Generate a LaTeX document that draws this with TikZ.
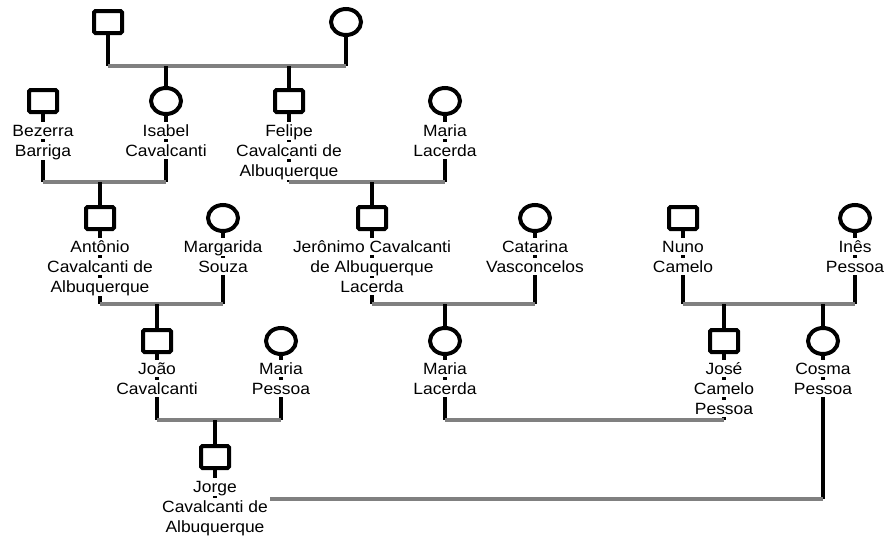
\documentclass[tikz,border=0pt]{standalone}
\usepackage{fontspec}
\setmainfont[FakeStretch=1.07]{Liberation Sans}
\usetikzlibrary{shapes.geometric}
\setlength{\fboxsep}{0pt}
\definecolor{unionGray}{HTML}{808080}
% each text line sits on its own white box, so the stem shows between lines
\newcommand\wl[1]{\colorbox{white}{\rule[-3pt]{0pt}{17pt}#1}}
\newcommand\namefont{\fontsize{16.3}{20}\selectfont}
\tikzset{
  male/.style={draw, line width=4pt, rectangle, rounded corners=1.5pt,
    minimum width=28pt, minimum height=22pt, inner sep=0pt, fill=white},
  female/.style={draw, line width=4pt, ellipse,
    minimum width=30pt, minimum height=26pt, inner sep=0pt, fill=white},
  lbl/.style={anchor=north, align=center, inner sep=0pt, font=\namefont},
  stem/.style={line width=4pt, draw=black},
  couple/.style={line width=3.5pt, draw=unionGray},
}
\begin{document}
\begin{tikzpicture}[x=1pt, y=-1pt]
\useasboundingbox (0,0) rectangle (888,538);

% levels of the union lines
\coordinate (u1) at (0,66);
\coordinate (u2) at (0,182);
\coordinate (u3) at (0,304);
\coordinate (u4) at (0,420);
\coordinate (u5) at (0,499);

% generation 1
\node[male]   (gf)  at (108,22) {};
\node[female] (gm)  at (346,22) {};
% generation 2
\node[male]   (bez) at (43,101) {};
\node[female] (isa) at (166,101) {};
\node[male]   (fel) at (289,101) {};
\node[female] (mla) at (445,101) {};
% generation 3
\node[male]   (ant) at (100,218) {};
\node[female] (mar) at (223,218) {};
\node[male]   (jer) at (372,218) {};
\node[female] (cat) at (535,218) {};
\node[male]   (nun) at (683,218) {};
\node[female] (ine) at (855,218) {};
% generation 4
\node[male]   (joa) at (157,341) {};
\node[female] (mpe) at (281,341) {};
\node[female] (mlb) at (445,341) {};
\node[male]   (jos) at (724,341) {};
\node[female] (cos) at (823,341) {};
% generation 5
\node[male]   (jor) at (215,457) {};

% stems from each spouse down to the union line
\draw[stem] (gf.south) -- (gf |- u1);
\draw[stem] (gm.south) -- (gm |- u1);
\draw[stem] (bez.south) -- (bez |- u2);
\draw[stem] (isa.south) -- (isa |- u2);
\draw[stem] (fel.south) -- (fel |- u2);
\draw[stem] (mla.south) -- (mla |- u2);
\draw[stem] (ant.south) -- (ant |- u3);
\draw[stem] (mar.south) -- (mar |- u3);
\draw[stem] (jer.south) -- (jer |- u3);
\draw[stem] (cat.south) -- (cat |- u3);
\draw[stem] (nun.south) -- (nun |- u3);
\draw[stem] (ine.south) -- (ine |- u3);
\draw[stem] (joa.south) -- (joa |- u4);
\draw[stem] (mpe.south) -- (mpe |- u4);
\draw[stem] (mlb.south) -- (mlb |- u4);
\draw[stem] (jos.south) -- (jos |- u4);
\draw[stem] (cos.south) -- (cos |- u5);
\draw[stem] (jor.south) -- (jor |- u5);

% names
\node[lbl] (bezL) at (43,122)  {\wl{Bezerra}\\\wl{Barriga}};
\node[lbl] (isaL) at (166,122) {\wl{Isabel}\\\wl{Cavalcanti}};
\node[lbl] (felL) at (289,122) {\wl{Felipe}\\\wl{Cavalcanti de}\\\wl{Albuquerque}};
\node[lbl] (mlaL) at (445,122) {\wl{Maria}\\\wl{Lacerda}};
\node[lbl] (antL) at (100,238) {\wl{Antônio}\\\wl{Cavalcanti de}\\\wl{Albuquerque}};
\node[lbl] (marL) at (223,238) {\wl{Margarida}\\\wl{Souza}};
\node[lbl] (jerL) at (372,238) {\wl{Jerônimo Cavalcanti}\\\wl{de Albuquerque}\\\wl{Lacerda}};
\node[lbl] (catL) at (535,238) {\wl{Catarina}\\\wl{Vasconcelos}};
\node[lbl] (nunL) at (683,238) {\wl{Nuno}\\\wl{Camelo}};
\node[lbl] (ineL) at (855,238) {\wl{Inês}\\\wl{Pessoa}};
\node[lbl] (joaL) at (157,360) {\wl{João}\\\wl{Cavalcanti}};
\node[lbl] (mpeL) at (281,360) {\wl{Maria}\\\wl{Pessoa}};
\node[lbl] (mlbL) at (445,360) {\wl{Maria}\\\wl{Lacerda}};
\node[lbl] (josL) at (724,360) {\wl{José}\\\wl{Camelo}\\\wl{Pessoa}};
\node[lbl] (cosL) at (823,360) {\wl{Cosma}\\\wl{Pessoa}};
\node[lbl] (jorL) at (215,478) {\wl{Jorge}\\\wl{Cavalcanti de}\\\wl{Albuquerque}};

% union lines
\draw[couple] (gf |- u1) -- (gm |- u1);
\draw[couple] (bez |- u2) -- (isa |- u2);
\draw[couple] (fel |- u2) -- (mla |- u2);
\draw[couple] (ant |- u3) -- (mar |- u3);
\draw[couple] (jer |- u3) -- (cat |- u3);
\draw[couple] (nun |- u3) -- (ine |- u3);
\draw[couple] (joa |- u4) -- (mpe |- u4);
\draw[couple] (mlb |- u4) -- (jos |- u4);
\draw[couple] ([xshift=2pt]jorL.east |- u5) -- (cos |- u5);

% descent lines to the children
\draw[stem] (isa |- u1) -- (isa.north);
\draw[stem] (fel |- u1) -- (fel.north);
\draw[stem] (ant |- u2) -- (ant.north);
\draw[stem] (jer |- u2) -- (jer.north);
\draw[stem] (joa |- u3) -- (joa.north);
\draw[stem] (mlb |- u3) -- (mlb.north);
\draw[stem] (jos |- u3) -- (jos.north);
\draw[stem] (cos |- u3) -- (cos.north);
\draw[stem] (jor |- u4) -- (jor.north);
\end{tikzpicture}
\end{document}
